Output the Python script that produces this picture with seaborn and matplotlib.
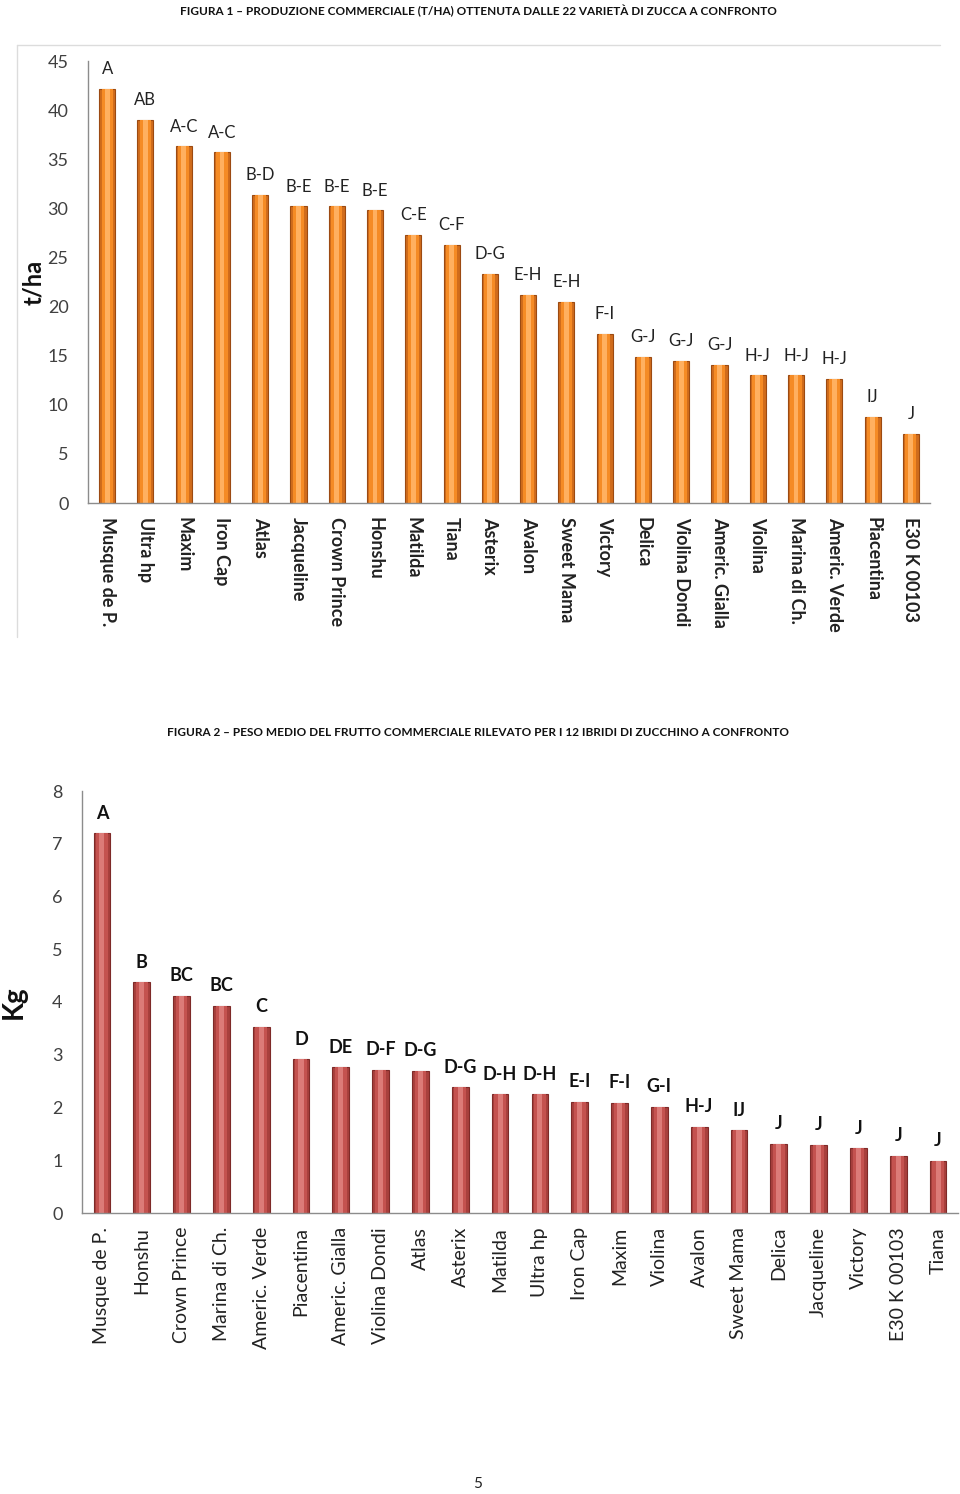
import matplotlib
matplotlib.use("Agg")
import matplotlib.pyplot as plt
from matplotlib.lines import Line2D
import numpy as np
import seaborn as sns

# Figura 1 - produzione commerciale (t/ha)
varieta_1 = ["Musque de P.", "Ultra hp", "Maxim", "Iron Cap", "Atlas", "Jacqueline",
             "Crown Prince", "Honshu", "Matilda", "Tiana", "Asterix", "Avalon",
             "Sweet Mama", "Victory", "Delica", "Violina Dondi", "Americ. Gialla",
             "Violina", "Marina di Ch.", "Americ. Verde", "Piacentina", "E30 K 00103"]
produzione = [42.2, 39.0, 36.3, 35.7, 31.4, 30.2, 30.2, 29.8, 27.3, 26.3, 23.3, 21.2,
              20.5, 17.2, 14.9, 14.5, 14.1, 13.0, 13.0, 12.6, 8.8, 7.0]
lettere_1 = ["A", "AB", "A-C", "A-C", "B-D", "B-E", "B-E", "B-E", "C-E", "C-F", "D-G",
             "E-H", "E-H", "F-I", "G-J", "G-J", "G-J", "H-J", "H-J", "H-J", "IJ", "J"]

# Figura 2 - peso medio del frutto (Kg)
varieta_2 = ["Musque de P.", "Honshu", "Crown Prince", "Marina di Ch.", "Americ. Verde",
             "Piacentina", "Americ. Gialla", "Violina Dondi", "Atlas", "Asterix",
             "Matilda", "Ultra hp", "Iron Cap", "Maxim", "Violina", "Avalon",
             "Sweet Mama", "Delica", "Jacqueline", "Victory", "E30 K 00103", "Tiana"]
peso = [7.2, 4.37, 4.12, 3.93, 3.53, 2.91, 2.76, 2.72, 2.70, 2.38, 2.25, 2.25, 2.11,
        2.09, 2.01, 1.63, 1.57, 1.31, 1.29, 1.23, 1.09, 0.99]
lettere_2 = ["A", "B", "BC", "BC", "C", "D", "DE", "D-F", "D-G", "D-G", "D-H", "D-H",
             "E-I", "F-I", "G-I", "H-J", "IJ", "J", "J", "J", "J", "J"]

sns.set_style("white")
plt.rcParams["font.family"] = ["Lato", "DejaVu Sans"]

W, H = 960, 1494
fig = plt.figure(figsize=(W / 100, H / 100), dpi=100)


def px_axes(left, top, right, bottom):
    return fig.add_axes([left / W, 1 - bottom / H, (right - left) / W, (bottom - top) / H])


def cylinder_bars(ax, cats, vals, colors, width):
    # layered bars to fake the Excel cylinder shading
    edge, dark, mid, light = colors
    sns.barplot(x=cats, y=vals, ax=ax, color=dark, width=width, saturation=1,
                edgecolor=edge, linewidth=0.8)
    sns.barplot(x=cats, y=vals, ax=ax, color=mid, width=width * 0.7, saturation=1,
                linewidth=0)
    sns.barplot(x=cats, y=vals, ax=ax, color=light, width=width * 0.3, saturation=1,
                linewidth=0)


def style_axes(ax, n, ymax, step):
    ax.set_xlim(-0.5, n - 0.5)
    ax.set_ylim(0, ymax)
    ax.set_yticks(np.arange(0, ymax + 0.01, step))
    for s in ["top", "right"]:
        ax.spines[s].set_visible(False)
    for s in ["left", "bottom"]:
        ax.spines[s].set_color("#8c8c8c")
        ax.spines[s].set_linewidth(1)
    ax.set_xticks(np.arange(-0.5, n, 1), minor=True)
    ax.tick_params(axis="x", which="major", length=0, pad=10)
    ax.tick_params(axis="x", which="minor", length=6, color="#8c8c8c", direction="out")
    ax.tick_params(axis="y", length=6, color="#8c8c8c", direction="out",
                   labelsize=13, labelcolor="#404040", pad=8)
    ax.set_xlabel("")


# ---- Figura 1 ----
fig.text(478 / W, 1 - 11 / H,
         "FIGURA 1 – PRODUZIONE COMMERCIALE (T/HA) OTTENUTA DALLE 22 VARIETÀ DI ZUCCA A CONFRONTO",
         ha="center", va="center", fontsize=8.5, fontweight="bold", color="#111111")
fig.add_artist(Line2D([17 / W, 940 / W], [1 - 45 / H, 1 - 45 / H], color="#dcdcdc", lw=1))
fig.add_artist(Line2D([17 / W, 17 / W], [1 - 45 / H, 1 - 637 / H], color="#dcdcdc", lw=1))

ax1 = px_axes(88, 61, 930, 503)
cylinder_bars(ax1, varieta_1, produzione, ("#9c4a12", "#d06c1c", "#f58b25", "#ffb060"), 0.42)
style_axes(ax1, len(varieta_1), 45, 5)
ax1.set_xticks(range(len(varieta_1)))
ax1.set_xticklabels(varieta_1, rotation=270, fontsize=13, fontweight="bold",
                    color="#222222", ha="center", va="top")
for i, (v, lab) in enumerate(zip(produzione, lettere_1)):
    ax1.text(i, v + 1.2, lab, ha="center", va="bottom", fontsize=12, color="#222222")
ax1.set_ylabel("t/ha", fontsize=17, fontweight="bold", labelpad=2, color="#111111")

# ---- Figura 2 ----
fig.text(478 / W, 1 - 733 / H,
         "FIGURA 2 – PESO MEDIO DEL FRUTTO COMMERCIALE RILEVATO PER I 12 IBRIDI DI ZUCCHINO A CONFRONTO",
         ha="center", va="center", fontsize=8.5, fontweight="bold", color="#111111")

ax2 = px_axes(82, 791, 958, 1213)
cylinder_bars(ax2, varieta_2, peso, ("#7e2a28", "#a8403d", "#c4524f", "#dc7b78"), 0.42)
style_axes(ax2, len(varieta_2), 8, 1)
ax2.set_xticks(range(len(varieta_2)))
ax2.set_xticklabels(varieta_2, rotation=90, fontsize=14, color="#222222",
                    ha="center", va="top")
for i, (v, lab) in enumerate(zip(peso, lettere_2)):
    ax2.text(i, v + 0.22, lab, ha="center", va="bottom", fontsize=13,
             fontweight="bold", color="#111111")
ax2.set_ylabel("Kg", fontsize=20, fontweight="bold", labelpad=18, color="#111111")

fig.text(478 / W, 1 - 1484 / H, "5", ha="center", va="center", fontsize=11, color="#222222")

fig.savefig("out.png", dpi=100)
